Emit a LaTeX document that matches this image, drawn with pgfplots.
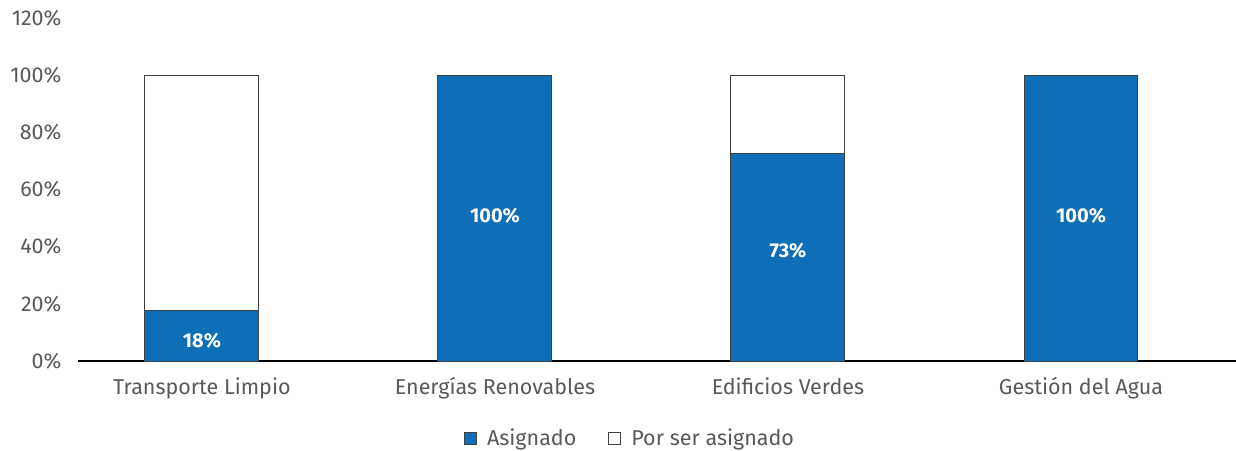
\documentclass[border=0pt]{standalone}
\usepackage{pgfplots}
\pgfplotsset{compat=1.18}
\usepackage{fontspec}
\setmainfont{Fira Sans}
\definecolor{barblue}{HTML}{0E6EB8}
\definecolor{txtgray}{HTML}{595959}
\definecolor{edge}{HTML}{404040}
\begin{document}
\begin{tikzpicture}
\useasboundingbox (0,0) rectangle (1236bp,451bp);
\begin{axis}[
  at={(78bp,90bp)}, anchor=south west,
  scale only axis, width=1158bp, height=343bp,
  ybar stacked, bar width=0.389,
  xmin=-0.423, xmax=3.529, ymin=0, ymax=120,
  xtick=data,
  xticklabels={Transporte Limpio, Energías Renovables, Edificios Verdes, Gestión del Agua},
  ytick={0,20,40,60,80,100,120},
  yticklabel={\pgfmathprintnumber{\tick}\%},
  /pgf/number format/assume math mode=true,
  axis lines*=left,
  y axis line style={draw=none},
  x axis line style={line width=1.3bp, black, -},
  major tick length=0pt,
  tick label style={font=\fontsize{21.5bp}{25bp}\selectfont, text=txtgray},
  xticklabel style={yshift=-13bp},
  yticklabel style={anchor=east, xshift=-13bp},
  legend style={at={(0.4767,-0.2245)}, anchor=center, draw=none, legend columns=2,
    font=\fontsize{21.5bp}{25bp}\selectfont, text=txtgray,
    /tikz/every even column/.append style={column sep=30bp}},
  legend image code/.code={\draw[#1, line width=1bp] (0bp,-6bp) rectangle (12bp,6bp); \path (20bp,0bp);},
  clip=false,
]
\addplot[fill=barblue, draw=edge, line width=1bp] coordinates {(0,17.5) (1,100) (2,72.7) (3,100)};
\addplot[fill=white, draw=edge, line width=1bp] coordinates {(0,82.5) (1,0) (2,27.3) (3,0)};
\legend{Asignado, Por ser asignado}
\coordinate (l1) at (axis cs:0,7);
\coordinate (l2) at (axis cs:1,50.7);
\coordinate (l3) at (axis cs:2,38.5);
\coordinate (l4) at (axis cs:3,50.7);
\end{axis}
\begin{scope}[every node/.style={text=white, font=\fontsize{20bp}{24bp}\selectfont\bfseries}]
\node at (l1) {18\%};
\node at (l2) {100\%};
\node at (l3) {73\%};
\node at (l4) {100\%};
\end{scope}
\end{tikzpicture}
\end{document}
